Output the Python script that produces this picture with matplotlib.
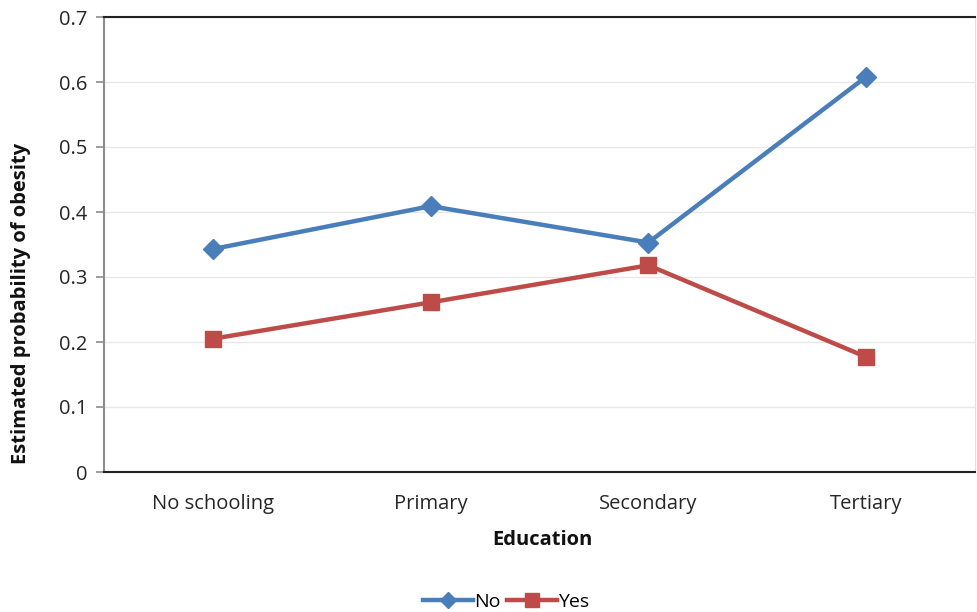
import matplotlib
matplotlib.use("Agg")
import matplotlib.pyplot as plt
from matplotlib.lines import Line2D

plt.rcParams['font.family'] = ['Open Sans', 'DejaVu Sans']

categories = ["No schooling", "Primary", "Secondary", "Tertiary"]
no_values = [0.343, 0.409, 0.353, 0.608]
yes_values = [0.205, 0.261, 0.318, 0.177]
y_ticks = [0, 0.1, 0.2, 0.3, 0.4, 0.5, 0.6, 0.7]
y_tick_labels = ["0", "0.1", "0.2", "0.3", "0.4", "0.5", "0.6", "0.7"]

blue = "#4a7ebb"
red = "#be4b48"
text_color = "#262626"

fig = plt.figure(figsize=(9.77, 6.12), dpi=100)
ax = fig.add_axes([104 / 977, 1 - 472 / 612, (975 - 104) / 977, (472 - 17) / 612])

x = list(range(len(categories)))
ax.plot(x, no_values, color=blue, lw=3.2, marker="D", ms=10, label="No", zorder=3)
ax.plot(x, yes_values, color=red, lw=3.2, marker="s", ms=12, label="Yes", zorder=3)

ax.set_xlim(-0.5, len(categories) - 0.5)
ax.set_ylim(0, 0.7)
ax.set_xticks(x)
ax.set_xticklabels(categories, fontsize=14.5, color=text_color)
ax.set_yticks(y_ticks)
ax.set_yticklabels(y_tick_labels, fontsize=14.5, color=text_color)
ax.tick_params(axis="x", length=0, pad=16)
ax.tick_params(axis="y", length=6, color="#8c8c8c", width=1.2, pad=6)
ax.yaxis.grid(True, color="#e8e8e8", lw=1)
ax.set_axisbelow(True)

ax.spines["top"].set_color("#222222")
ax.spines["top"].set_linewidth(1.5)
ax.spines["bottom"].set_color("#222222")
ax.spines["bottom"].set_linewidth(1.5)
ax.spines["left"].set_color("#8c8c8c")
ax.spines["left"].set_linewidth(1.5)
ax.spines["right"].set_color("#e0e0e0")

fig.text(542 / 977, 1 - 540 / 612, "Education", fontsize=14.5, fontweight="bold",
         ha="center", va="center", color="#111111")
fig.text(21 / 977, 1 - 303 / 612, "Estimated probability of obesity", fontsize=14.5,
         fontweight="bold", rotation=90, ha="center", va="center", color="#111111")

handles = [
    Line2D([], [], color=blue, lw=3.2, marker="D", ms=8),
    Line2D([], [], color=red, lw=3.2, marker="s", ms=10),
]
fig.legend(handles, ["No", "Yes"], loc="center", bbox_to_anchor=(506 / 977, 1 - 602 / 612),
           ncol=2, frameon=False, fontsize=14, handlelength=2.6, handletextpad=0.05,
           columnspacing=0.3)

fig.savefig("out.png", dpi=100)
